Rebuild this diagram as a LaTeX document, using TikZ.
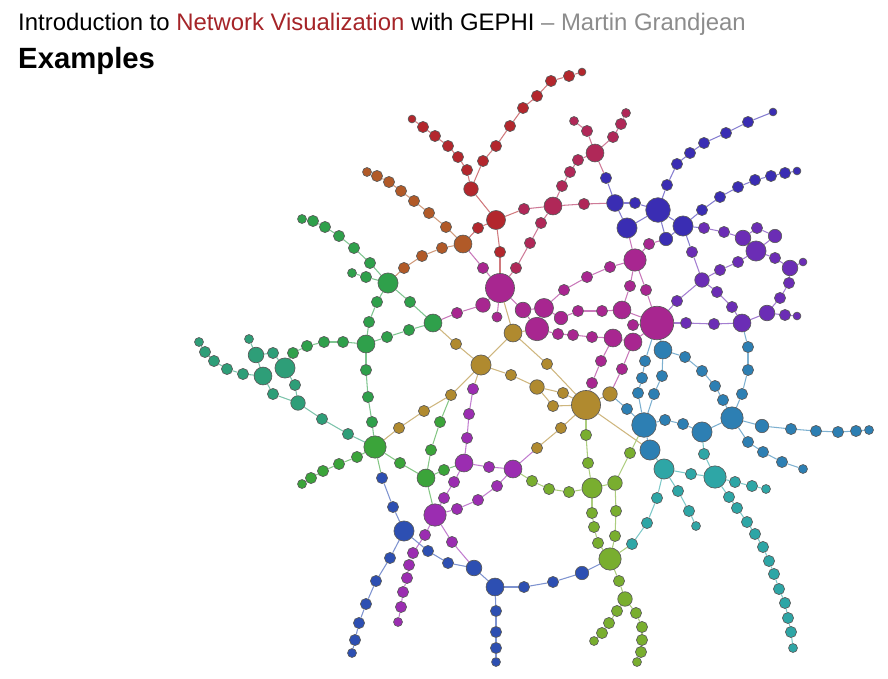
\documentclass[tikz,border=0pt]{standalone}
\usepackage{fontspec}
\setmainfont{Liberation Sans}
\pgfdeclarelayer{bg}
\pgfsetlayers{bg,main}
\definecolor{cTitle}{HTML}{A52428}
\definecolor{cRed}{HTML}{B3272D}
\definecolor{cBrown}{HTML}{B15A28}
\definecolor{cCrim}{HTML}{B02858}
\definecolor{cBlue}{HTML}{3A2DB3}
\definecolor{cPurp}{HTML}{6B2DB5}
\definecolor{cMag}{HTML}{A82690}
\definecolor{cGold}{HTML}{B08A2F}
\definecolor{cGreen}{HTML}{2FA04B}
\definecolor{cTeal}{HTML}{2E9E78}
\definecolor{cGreenK}{HTML}{3BA43A}
\definecolor{cPurpB}{HTML}{9B2DB1}
\definecolor{cBlueB}{HTML}{2D4FB2}
\definecolor{cLime}{HTML}{79AE2F}
\definecolor{cSteel}{HTML}{2D7FB3}
\definecolor{cCyan}{HTML}{2EA6A6}

\begin{document}
\begin{tikzpicture}[x=0.3mm, y=-0.3mm,
  vtx/.style={circle, draw=black!65, line width=0.55pt, inner sep=0pt, minimum size=#1*0.335mm},
  vtx/.default=10,
  lnk/.style={draw=#1!62!white, line width=0.9pt}]
\useasboundingbox (0,0) rectangle (888,678);

\node (title) [anchor=base west, inner sep=0pt, font=\fontsize{20.4}{24}\selectfont] at (18,31)
  {Introduction to \textcolor{cTitle}{Network Visualization} with GEPHI \textcolor{black!45}{– Martin Grandjean}};
\node (head) [anchor=base west, inner sep=0pt, font=\fontsize{25}{30}\selectfont\bfseries] at (18,69) {Examples};

\foreach \n/\x/\y/\s in {r1/412/119/7, r2/423/127/10, r3/435/136/10, r4/448/146/10, r5/458/157/10, r6/467/170/10,
  r7/471/189/13, r8/483/161/10, r9/496/146/10, r10/510/126/10, r11/523/108/10, r12/537/96/10, r13/551/81/10,
  r14/569/76/10, r15/582/72/7, r16/496/220/17, r17/478/228/10, r18/500/252/10}
  \node[vtx=\s, fill=cRed] (\n) at (\x,\y) {};
\foreach \n/\x/\y/\s in {b0/463/244/16, b1/446/227/10, b2/429/213/10, b3/414/201/10, b4/401/191/10, b5/389/182/10,
  b6/377/176/10, b7/367/172/8, b8/442/248/10, b9/422/256/10, b10/404/268/10}
  \node[vtx=\s, fill=cBrown] (\n) at (\x,\y) {};
\foreach \n/\x/\y/\s in {c0/595/153/16, c1/524/209/10, c2/553/206/16, c3/562/186/10, c4/570/172/10, c5/578/160/10,
  c6/587/131/10, c7/574/121/8, c8/613/137/10, c9/621/124/10, c10/626/113/8, c11/584/204/10, c12/541/223/10,
  c13/530/243/10, c14/516/268/10}
  \node[vtx=\s, fill=cCrim] (\n) at (\x,\y) {};
\foreach \n/\x/\y/\s in {g0/388/283/18, g1/302/219/8, g2/313/221/10, g3/325/227/10, g4/339/236/10, g5/354/248/10,
  g6/370/263/10, g7/352/273/8, g8/366/277/10, g9/377/302/10, g10/369/322/10, g11/366/344/16, g12/410/302/10,
  g13/433/323/16, g14/409/330/10, g15/387/337/10, g16/343/342/10, g17/324/342/10, g18/307/346/10,
  g19/366/370/10, g20/368/397/10, g21/372/422/10, t1/293/353/10}
  \node[vtx=\s, fill=cGreen] (\n) at (\x,\y) {};
\foreach \n/\x/\y/\s in {t0/285/368/18, t2/273/353/10, t3/256/355/14, t4/249/339/8, t5/263/376/16, t6/243/374/10,
  t7/227/369/10, t8/214/361/10, t9/205/352/10, t10/199/342/8, t11/295/385/10, t12/298/403/13, t13/273/394/10,
  t14/322/419/10, t15/348/434/10}
  \node[vtx=\s, fill=cTeal] (\n) at (\x,\y) {};
\foreach \n/\x/\y/\s in {k0/375/447/20, k1/357/457/10, k2/339/464/10, k3/323/471/10, k4/311/478/10, k5/302/484/8,
  k6/400/463/10, k7/426/478/16, k8/440/422/10, k9/431/450/10, k10/444/470/10}
  \node[vtx=\s, fill=cGreenK] (\n) at (\x,\y) {};
\foreach \n/\x/\y/\s in {o0/481/365/18, o1/456/344/10, o2/451/395/10, o3/424/411/10, o4/399/428/10, o5/513/333/16,
  o6/511/375/10, o7/537/387/13, o8/547/364/10, o9/563/393/10, o10/553/406/10, o11/586/405/26, o12/610/394/13,
  o13/561/428/10, o14/537/448/10}
  \node[vtx=\s, fill=cGold] (\n) at (\x,\y) {};
\foreach \n/\x/\y/\s in {p0/473/389/10, p1/469/414/10, p2/467/438/10, p3/464/463/16, p4/489/467/10, p5/513/469/16,
  p6/454/482/10, p7/444/498/10, p8/435/515/20, p9/497/486/10, p10/478/500/10, p11/457/509/10, p12/425/535/10,
  p13/413/553/10, p14/409/565/10, p15/407/578/10, p16/403/592/10, p17/401/607/10, p18/398/622/8, p19/452/542/10}
  \node[vtx=\s, fill=cPurpB] (\n) at (\x,\y) {};
\foreach \n/\x/\y/\s in {B0/404/531/18, B1/382/478/10, B2/393/507/10, B3/428/551/10, B4/448/563/10, B5/474/568/14,
  B6/495/587/16, B7/524/587/10, B8/553/582/10, B9/582/573/12, B10/496/611/10, B11/496/632/10, B12/496/648/10,
  B13/496/662/8, B14/390/558/10, B15/376/581/10, B16/366/604/10, B17/359/623/10, B18/355/640/10, B19/352/653/8}
  \node[vtx=\s, fill=cBlueB] (\n) at (\x,\y) {};
\foreach \n/\x/\y/\s in {L0/592/488/18, L1/586/435/10, L2/588/463/10, L3/569/492/10, L4/549/489/10, L5/532/481/10,
  L6/615/483/13, L7/630/453/10, L8/592/513/10, L9/594/527/10, L10/598/543/10, L11/616/511/10, L12/615/536/10,
  L13/610/559/20, L14/619/581/10, L15/625/599/13, L16/617/611/10, L17/609/623/10, L18/602/633/10, L19/594/641/8,
  L20/636/613/10, L21/642/627/10, L22/642/640/10, L23/641/652/10, L24/637/662/8}
  \node[vtx=\s, fill=cLime] (\n) at (\x,\y) {};
\foreach \n/\x/\y/\s in {m1/500/288/26, m2/483/268/10, m4/537/329/21, m5/483/305/13, m6/457/313/10, m7/497/317/9,
  m8/523/310/14, m9/544/308/17, m10/564/290/10, m11/587/277/10, m12/610/267/10, m13/635/260/20, m14/561/318/12,
  m15/578/311/10, m16/602/311/10, m17/622/310/16, m18/657/323/30, m19/630/286/10, m20/646/290/10,
  m21/633/325/10, m22/633/342/16, m23/613/338/16, m24/592/337/10, m25/573/335/10, m26/558/334/10,
  m27/601/361/10, m28/592/383/10, m29/622/369/10, m30/649/244/10}
  \node[vtx=\s, fill=cMag] (\n) at (\x,\y) {};
\foreach \n/\x/\y/\s in {u0/627/228/18, u1/606/178/10, u2/615/203/15, u3/635/203/10, u4/658/210/22, u5/683/226/18,
  u6/666/239/12, u7/667/185/10, u8/677/164/10, u9/690/153/10, u10/704/143/10, u11/726/133/10, u12/748/122/10,
  u13/773/112/7, u14/702/210/10, u15/720/197/10, u16/738/187/10, u17/755/180/10, u18/771/176/10,
  u19/785/173/10, u20/797/171/7}
  \node[vtx=\s, fill=cBlue] (\n) at (\x,\y) {};
\foreach \n/\x/\y/\s in {v0/742/323/16, v1/704/228/10, v2/724/232/10, v3/743/238/14, v4/757/228/10, v5/775/236/12,
  v6/756/251/18, v7/775/258/10, v8/790/268/14, v9/803/262/7, v10/789/283/10, v11/780/298/10, v12/767/313/14,
  v13/785/315/10, v14/797/316/7, v15/732/307/10, v16/717/292/10, v17/702/280/13, v18/720/270/10,
  v19/738/262/10, v20/692/252/10, v21/677/301/10, v22/686/323/10, v23/714/324/10}
  \node[vtx=\s, fill=cPurp] (\n) at (\x,\y) {};
\foreach \n/\x/\y/\s in {s0/644/425/22, s1/663/350/16, s2/685/357/10, s3/702/371/10, s4/715/386/10, s5/723/400/10,
  s6/732/418/20, s7/645/361/10, s8/642/378/10, s9/638/393/10, s10/662/376/10, s11/654/394/10, s12/627/409/10,
  s13/665/420/10, s14/683/424/10, s15/702/432/18, s16/650/450/18, s17/742/394/10, s18/748/370/10,
  s19/748/347/10, s20/762/426/12, s21/791/429/10, s22/816/431/10, s23/838/432/10, s24/856/431/10,
  s25/869/430/8, s26/748/442/10, s27/763/452/10, s28/782/462/10, s29/803/469/8}
  \node[vtx=\s, fill=cSteel] (\n) at (\x,\y) {};
\foreach \n/\x/\y/\s in {C0/664/469/18, C1/691/474/10, C2/715/477/20, C3/704/454/10, C4/657/498/10, C5/647/523/10,
  C6/632/544/10, C7/678/491/10, C8/689/511/10, C9/696/526/8, C10/735/482/10, C11/752/486/10, C12/766/489/8,
  C13/729/497/10, C14/737/508/10, C15/747/522/10, C16/755/534/10, C17/763/547/10, C18/769/561/10,
  C19/774/574/10, C20/779/589/10, C21/785/603/10, C22/788/618/10, C23/791/632/10, C24/793/648/8}
  \node[vtx=\s, fill=cCyan] (\n) at (\x,\y) {};

\begin{pgfonlayer}{bg}
\foreach \a/\b in {r1/r2, r2/r3, r3/r4, r4/r5, r5/r6, r6/r7, r7/r8, r8/r9, r9/r10, r10/r11, r11/r12, r12/r13,
  r13/r14, r14/r15, r7/r16, r16/r17, r17/b0, r16/r18, r18/m1, r16/c1}
  \draw[lnk=cRed] (\a) -- (\b);
\foreach \a/\b in {b0/b1, b1/b2, b2/b3, b3/b4, b4/b5, b5/b6, b6/b7, b0/b8, b8/b9, b9/b10, b10/g0}
  \draw[lnk=cBrown] (\a) -- (\b);
\foreach \a/\b in {c1/c2, c2/c3, c3/c4, c4/c5, c5/c0, c0/c6, c6/c7, c0/c8, c8/c9, c9/c10, c2/c11, c11/u2,
  c2/c12, c12/c13, c13/c14, c14/m1, c0/u1}
  \draw[lnk=cCrim] (\a) -- (\b);
\foreach \a/\b in {g1/g2, g2/g3, g3/g4, g4/g5, g5/g6, g6/g0, g7/g8, g8/g0, g0/g9, g9/g10, g10/g11, g0/g12,
  g12/g13, g13/g14, g14/g15, g15/g11, g11/g16, g16/g17, g17/g18, g18/t1, t1/t0, g11/g19, g19/g20, g20/g21, g21/k0}
  \draw[lnk=cGreen] (\a) -- (\b);
\foreach \a/\b in {t0/t2, t2/t3, t3/t4, t3/t5, t5/t6, t6/t7, t7/t8, t8/t9, t9/t10, t5/t13, t13/t12, t0/t11,
  t11/t12, t12/t14, t14/t15, t15/k0}
  \draw[lnk=cTeal] (\a) -- (\b);
\foreach \a/\b in {k0/k1, k1/k2, k2/k3, k3/k4, k4/k5, k0/k6, k6/k7, o2/k8, k8/k9, k9/k7, k7/k10, k10/p3, k7/p8, k0/B1}
  \draw[lnk=cGreenK] (\a) -- (\b);
\foreach \a/\b in {g13/o1, o1/o0, o0/o2, o2/o3, o3/o4, o4/k0, o0/o5, o0/o6, o6/o7, o7/o9, o9/o11, o7/o10,
  o10/o11, o5/o8, o8/o11, o11/o13, o13/o14, o11/o12, o0/p0, o11/s16, o5/m4, o5/m1}
  \draw[lnk=cGold] (\a) -- (\b);
\foreach \a/\b in {p0/p1, p1/p2, p2/p3, p3/p4, p4/p5, p3/p6, p6/p7, p7/p8, p5/p9, p9/p10, p10/p11, p11/p8,
  p8/p12, p12/p13, p13/p14, p14/p15, p15/p16, p16/p17, p17/p18, p8/p19, p19/B5, p5/o14}
  \draw[lnk=cPurpB] (\a) -- (\b);
\foreach \a/\b in {B1/B2, B2/B0, B0/B3, B3/B4, B4/B5, B5/B6, B6/B7, B7/B8, B8/B9, B9/L13, B6/B10, B10/B11,
  B11/B12, B12/B13, B0/B14, B14/B15, B15/B16, B16/B17, B17/B18, B18/B19}
  \draw[lnk=cBlueB] (\a) -- (\b);
\foreach \a/\b in {o11/L1, L1/L2, L2/L0, L0/L3, L3/L4, L4/L5, L5/p5, L0/L6, L6/L7, L7/s0, L0/L8, L8/L9,
  L9/L10, L10/L13, L6/L11, L11/L12, L12/L13, L13/L14, L14/L15, L15/L16, L16/L17, L17/L18, L18/L19,
  L15/L20, L20/L21, L21/L22, L22/L23, L23/L24, L13/C6}
  \draw[lnk=cLime] (\a) -- (\b);
\foreach \a/\b in {m1/m2, m2/b0, m1/m5, m5/m6, m6/g13, m1/m7, m1/m8, m8/m9, m8/m4, m9/m10, m10/m11, m11/m12,
  m12/m13, m9/m14, m14/m15, m15/m16, m16/m17, m17/m18, m4/m26, m26/m25, m25/m24, m24/m23, m23/m22, m22/m18,
  m23/m27, m27/m28, m28/o11, m22/m29, m29/o12, m17/m19, m19/m13, m18/m20, m20/m13, m18/m21, m13/m30,
  m30/u6, m13/u0}
  \draw[lnk=cMag] (\a) -- (\b);
\foreach \a/\b in {u1/u2, u2/u0, u2/u3, u3/u4, u0/u4, u4/u5, u4/u6, u5/u6, u4/u7, u7/u8, u8/u9, u9/u10,
  u10/u11, u11/u12, u12/u13, u5/u14, u14/u15, u15/u16, u16/u17, u17/u18, u18/u19, u19/u20, u5/v1, u5/v20}
  \draw[lnk=cBlue] (\a) -- (\b);
\foreach \a/\b in {v1/v2, v2/v3, v3/v4, v4/v5, v3/v6, v5/v6, v6/v7, v7/v8, v8/v9, v8/v10, v10/v11, v11/v12,
  v12/v13, v13/v14, v12/v0, v6/v19, v19/v18, v18/v17, v17/v20, v17/v16, v16/v15, v15/v0, v17/v21, v21/m18,
  m18/v22, v22/v23, v23/v0}
  \draw[lnk=cPurp] (\a) -- (\b);
\foreach \a/\b in {m18/s1, s1/s2, s2/s3, s3/s4, s4/s5, s5/s6, s1/s10, s10/s11, s11/s0, m18/s7, s7/s8, s8/s9,
  s9/s0, o12/s12, s12/s0, s0/s13, s13/s14, s14/s15, s15/s6, s0/s16, s6/s17, s17/s18, s18/s19, s19/v0,
  s6/s20, s20/s21, s21/s22, s22/s23, s23/s24, s24/s25, s6/s26, s26/s27, s27/s28, s28/s29}
  \draw[lnk=cSteel] (\a) -- (\b);
\foreach \a/\b in {s16/C0, C0/C1, C1/C2, C2/C3, C3/s15, C0/C4, C4/C5, C5/C6, C0/C7, C7/C8, C8/C9, C2/C10,
  C10/C11, C11/C12, C2/C13, C13/C14, C14/C15, C15/C16, C16/C17, C17/C18, C18/C19, C19/C20, C20/C21,
  C21/C22, C22/C23, C23/C24}
  \draw[lnk=cCyan] (\a) -- (\b);
\end{pgfonlayer}
\end{tikzpicture}
\end{document}
